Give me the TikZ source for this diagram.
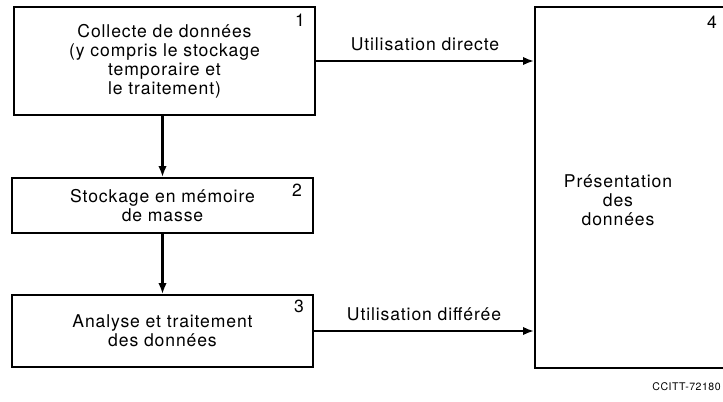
\documentclass[tikz,border=0pt]{standalone}
\usepackage{fontspec}
\setmainfont[LetterSpace=5]{TeX Gyre Heros}
\usetikzlibrary{arrows.meta}

\begin{document}
\begin{tikzpicture}[x=0.025cm,y=-0.025cm,
    box/.style={draw,line width=1pt,align=center,inner sep=0pt,
      font=\fontsize{12.5}{13.6}\selectfont},
    num/.style={inner sep=0pt,font=\fontsize{12.5}{14}\selectfont},
    flow/.style={line width=2pt,-{Latex[length=8pt,width=6pt]}}]

  \useasboundingbox (0,0) rectangle (723,401);

  \node[box,minimum width=7.525cm,minimum height=2.7cm] (collecte) at (164.5,61)
    {Collecte de données\\(y compris le stockage\\temporaire et\\le traitement)};
  \node[box,minimum width=7.525cm,minimum height=1.375cm] (stockage) at (162.5,205.5)
    {Stockage en mémoire\\de masse};
  \node[box,minimum width=7.525cm,minimum height=1.8cm] (analyse) at (162.5,331)
    {Analyse et traitement\\des données};
  \node[box,minimum width=5.625cm,minimum height=9.025cm] (presentation) at (647.5,187.5) {};
  \node[box,draw=none] (presentationtxt) at (618,200) {Présentation\\des\\données};

  \begin{scope}[every node/.style=num]
    \node (n1) at (300,20) {1};
    \node (n2) at (297,190) {2};
    \node (n3) at (299,306) {3};
    \node (n4) at (712,22) {4};
  \end{scope}

  \draw[flow] (stockage.north |- collecte.south) -- (stockage.north);
  \draw[flow] (stockage.south) -- (analyse.north);
  \draw[flow] (collecte.east) -- node[num,above=6pt] (directe) {Utilisation directe}
    (collecte.east -| presentation.west);
  \draw[flow] (analyse.east) -- node[num,above=6pt] (differee) {Utilisation différée}
    (analyse.east -| presentation.west);

  \node[inner sep=0pt,anchor=east,font=\fontsize{7.5}{9}\selectfont] (ref) at (721,387) {CCITT-72180};

\end{tikzpicture}
\end{document}
